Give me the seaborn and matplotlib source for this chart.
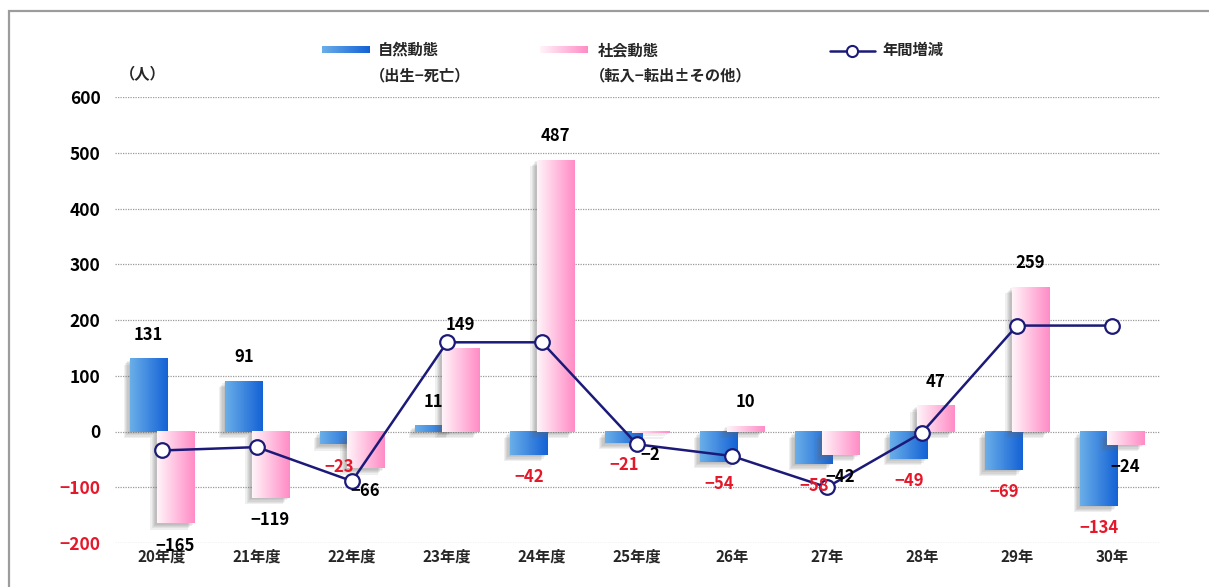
import numpy as np
import pandas as pd
import matplotlib
matplotlib.use('Agg')
import matplotlib.pyplot as plt
import seaborn as sns
from matplotlib import patheffects
from matplotlib.patches import Rectangle
from matplotlib.lines import Line2D
from matplotlib.colors import LinearSegmentedColormap

categories = ['20年度', '21年度', '22年度', '23年度', '24年度', '25年度',
              '26年', '27年', '28年', '29年', '30年']
natural = [131, 91, -23, 11, -42, -21, -54, -58, -49, -69, -134]
social = [-165, -119, -66, 149, 487, -2, 10, -42, 47, 259, -24]
annual = [-34, -28, -89, 160, 160, -23, -44, -100, -2, 190, 190]
yticks = [-200, -100, 0, 100, 200, 300, 400, 500, 600]

sns.set_theme(style='white')
plt.rcParams['font.family'] = ['Noto Sans CJK JP', 'DejaVu Sans']
plt.rcParams['axes.unicode_minus'] = True

RED = '#e4182b'
NAVY = '#1c1a78'
blue_cm = LinearSegmentedColormap.from_list('b', ['#6aaee8', '#1462d6'])
pink_cm = LinearSegmentedColormap.from_list('p', ['#fff4f9', '#ff8cc6'])
grad = np.linspace(0, 1, 64).reshape(1, -1)

W, H = 1209, 587
fig = plt.figure(figsize=(W / 100, H / 100), dpi=100)
ax = fig.add_axes([114.5 / W, 1 - 543 / H, 1045 / W, 446 / H])

df = pd.DataFrame({
    'year': categories * 2,
    'value': natural + social,
    'kind': ['自然動態'] * len(categories) + ['社会動態'] * len(categories),
})

sns.barplot(data=df, x='year', y='value', hue='kind', order=categories,
            hue_order=['自然動態', '社会動態'], dodge=True, width=0.56,
            saturation=1, legend=False, ax=ax)

# soft drop shadow, several faint layers
shadow = [patheffects.SimplePatchShadow(offset=(-0.9 * k, -0.9 * k), shadow_rgbFace='0.4', alpha=0.1)
          for k in range(1, 6)]

# redo bars: wider (overlapping), gradient fill
bars = list(ax.patches)
nat_bars = [p for p in bars if (p.get_x() + p.get_width() / 2) % 1 > 0.5]
soc_bars = [p for p in bars if (p.get_x() + p.get_width() / 2) % 1 <= 0.5]
z = 3
for group, cm in [(nat_bars, blue_cm), (soc_bars, pink_cm)]:
    for p in group:
        cx = p.get_x() + p.get_width() / 2
        p.set_width(0.395)
        p.set_x(cx - 0.1975)
        p.set_facecolor('none')
        p.set_edgecolor('none')
        p.set_zorder(z - 0.5)
        p.set_path_effects(shadow)
        y0, y1 = sorted([p.get_y(), p.get_y() + p.get_height()])
        ax.imshow(grad, cmap=cm, aspect='auto', interpolation='bilinear',
                  extent=(p.get_x(), p.get_x() + p.get_width(), y0, y1), zorder=z)
    z += 1

sns.pointplot(x=categories, y=annual, order=categories, color=NAVY,
              errorbar=None, ax=ax)
ln = ax.lines[-1]
ln.set_markerfacecolor('white')
ln.set_markeredgecolor(NAVY)
ln.set_markersize(10.5)
ln.set_markeredgewidth(1.6)
ln.set_linewidth(1.8)
ln.set_zorder(6)

ax.set_xlim(-0.5, len(categories) - 0.5)
ax.set_ylim(-200, 600)
ax.set_yticks(yticks)
ax.set_yticklabels([str(t).replace('-', '−') for t in yticks])
for t, lab in zip(yticks, ax.get_yticklabels()):
    lab.set_color(RED if t < 0 else 'black')
ax.tick_params(axis='y', length=0, pad=10, labelsize=12.5)
ax.tick_params(axis='x', length=0, pad=4, labelsize=11)
for lab in ax.get_xticklabels() + ax.get_yticklabels():
    lab.set_fontweight('bold')
ax.set_xlabel('')
ax.set_ylabel('')
for s in ax.spines.values():
    s.set_visible(False)
ax.set_axisbelow(True)
ax.yaxis.grid(True, color='#9a9a9a', linestyle=(0, (1, 1)), linewidth=0.9)
ax.xaxis.grid(False)
ax.set_facecolor('none')


def fmt(v):
    return str(v).replace('-', '−')


for i in range(len(categories)):
    for v, dx, neg_col in [(natural[i], -0.14, RED), (social[i], 0.14, 'black')]:
        off = 17 if v >= 0 else -16
        ax.annotate(fmt(v), (i + dx, v), xytext=(0, off), textcoords='offset points',
                    ha='center', va='center', fontsize=12, fontweight='bold',
                    color='black' if v >= 0 else neg_col, zorder=7)

# legend
def swatch(x, cm):
    a = fig.add_axes([x / W, 1 - 53 / H, 48 / W, 7 / H])
    a.imshow(grad, cmap=cm, aspect='auto', interpolation='bilinear')
    a.axis('off')


swatch(322, blue_cm)
swatch(540, pink_cm)
fig.text(378 / W, 1 - 50 / H, '自然動態', fontsize=11, fontweight='bold', va='center')
fig.text(370 / W, 1 - 75 / H, '（出生−死亡）', fontsize=11, fontweight='bold', va='center')
fig.text(598 / W, 1 - 50 / H, '社会動態', fontsize=11, fontweight='bold', va='center')
fig.text(590 / W, 1 - 75 / H, '（転入−転出±その他）', fontsize=11, fontweight='bold', va='center')
fig.add_artist(Line2D([830 / W, 875 / W], [1 - 51 / H, 1 - 51 / H], color=NAVY, lw=1.8,
                      transform=fig.transFigure))
fig.add_artist(Line2D([852 / W], [1 - 51 / H], marker='o', markersize=8, color=NAVY,
                      markerfacecolor='white', markeredgewidth=1.5, transform=fig.transFigure))
fig.text(882 / W, 1 - 50 / H, '年間増減', fontsize=11, fontweight='bold', va='center')
fig.text(120 / W, 1 - 74 / H, '（人）', fontsize=11, fontweight='bold', va='center')

# outer frame (cut off on the right and bottom)
fig.add_artist(Rectangle((9 / W, -0.1), 1.2, 1.1 - 11 / H, transform=fig.transFigure,
                         fill=False, edgecolor='#9c9c9c', linewidth=1.6))

fig.savefig('out.png', dpi=100)
